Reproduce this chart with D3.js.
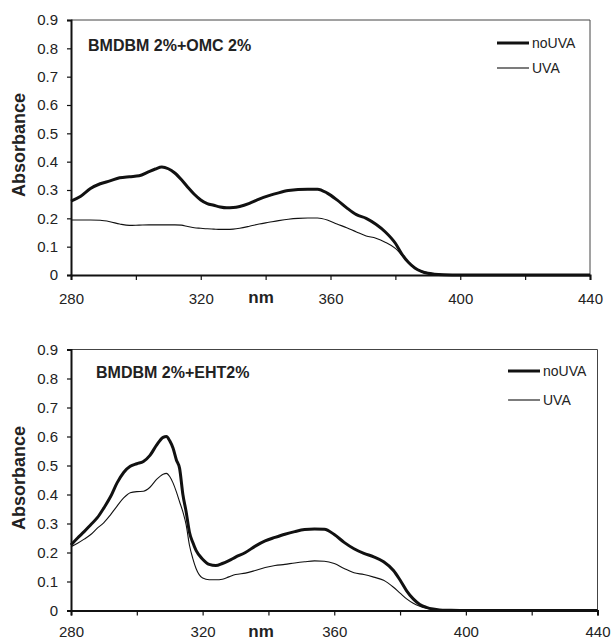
<!DOCTYPE html>
<html>
<head>
<meta charset="utf-8">
<script src="https://cdn.jsdelivr.net/npm/d3@7"></script>
<style>
  html, body { margin: 0; padding: 0; background: #fff; }
  svg { display: block; font-family: "Liberation Sans", Arial, sans-serif; }
</style>
</head>
<body>
<svg id="chart" width="613" height="640"></svg>
<script>
// ---------- DATA ----------
const yTicks = [0, 0.1, 0.2, 0.3, 0.4, 0.5, 0.6, 0.7, 0.8, 0.9];
const xTicks = [280, 300, 320, 340, 360, 380, 400, 420, 440];
const xTickLabels = ["280", "", "320", "", "360", "", "400", "", "440"];
const seriesNames = ["noUVA", "UVA"];

// Panel 1: BMDBM 2%+OMC 2%
const title1 = "BMDBM 2%+OMC 2%";
const wl1 = [280, 283, 286, 289, 292, 295, 298, 301, 304, 306, 308, 310, 312, 314, 316, 318, 320, 322, 324, 326, 328, 330, 332, 335, 338, 341, 344, 347, 350, 353, 356, 359, 362, 365, 368, 371, 374, 377, 380, 382, 384, 386, 388, 390, 392, 395, 400, 420, 440];
const noUVA1 = [0.261, 0.278, 0.305, 0.322, 0.332, 0.343, 0.347, 0.350, 0.365, 0.374, 0.381, 0.375, 0.360, 0.337, 0.310, 0.285, 0.265, 0.252, 0.246, 0.240, 0.237, 0.238, 0.242, 0.253, 0.268, 0.280, 0.290, 0.298, 0.302, 0.303, 0.303, 0.289, 0.265, 0.237, 0.213, 0.200, 0.179, 0.151, 0.112, 0.074, 0.045, 0.025, 0.013, 0.006, 0.003, 0.001, 0, 0, 0];
const UVA1 = [0.194, 0.194, 0.194, 0.193, 0.188, 0.180, 0.175, 0.176, 0.177, 0.177, 0.177, 0.177, 0.177, 0.176, 0.171, 0.167, 0.165, 0.163, 0.162, 0.161, 0.161, 0.162, 0.165, 0.172, 0.180, 0.186, 0.192, 0.197, 0.200, 0.201, 0.201, 0.194, 0.180, 0.167, 0.152, 0.138, 0.130, 0.115, 0.094, 0.070, 0.045, 0.025, 0.014, 0.008, 0.004, 0.001, 0, 0, 0];

// Panel 2: BMDBM 2%+EHT2%
const title2 = "BMDBM 2%+EHT2%";
const wl2 = [280, 282, 284, 286, 288, 290, 292, 294, 296, 298, 300, 302, 304, 306, 308, 309, 310, 311, 312, 313, 314, 315, 316, 317, 318, 320, 322, 324, 326, 328, 330, 333, 336, 339, 342, 345, 348, 351, 354, 357, 360, 363, 366, 369, 372, 375, 378, 380, 382, 384, 386, 388, 390, 392, 395, 400, 420, 440];
const noUVA2 = [0.226, 0.250, 0.272, 0.296, 0.320, 0.354, 0.392, 0.440, 0.476, 0.497, 0.506, 0.514, 0.535, 0.570, 0.597, 0.600, 0.585, 0.560, 0.520, 0.490, 0.400, 0.340, 0.270, 0.235, 0.207, 0.177, 0.159, 0.155, 0.162, 0.172, 0.184, 0.200, 0.222, 0.240, 0.252, 0.263, 0.272, 0.279, 0.281, 0.280, 0.262, 0.235, 0.213, 0.197, 0.185, 0.168, 0.138, 0.105, 0.068, 0.040, 0.021, 0.011, 0.005, 0.002, 0.001, 0, 0, 0];
const UVA2 = [0.220, 0.232, 0.246, 0.262, 0.284, 0.303, 0.330, 0.360, 0.388, 0.406, 0.410, 0.411, 0.425, 0.452, 0.470, 0.473, 0.462, 0.440, 0.410, 0.375, 0.340, 0.295, 0.225, 0.180, 0.145, 0.112, 0.106, 0.106, 0.108, 0.116, 0.124, 0.129, 0.138, 0.148, 0.155, 0.159, 0.164, 0.168, 0.171, 0.170, 0.162, 0.145, 0.130, 0.124, 0.115, 0.104, 0.080, 0.060, 0.040, 0.025, 0.015, 0.008, 0.004, 0.002, 0.001, 0, 0, 0];

// ---------- DRAW ----------
const svg = d3.select("#chart");

const panels = [
  { title: title1, wl: wl1, series: [noUVA1, UVA1], left: 71, right: 590, top: 20, bottom: 275,
    titlePos: [88, 51], legY: [43, 68], legX: 497, ylabY: 145, pad: 13 },
  { title: title2, wl: wl2, series: [noUVA2, UVA2], left: 71, right: 597.5, top: 349.5, bottom: 610.5,
    titlePos: [96, 378], legY: [371, 400], legX: 508, ylabY: 478, pad: 11 }
];

const widths = [3, 1.1];

panels.forEach(p => {
  const x = d3.scaleLinear().domain([280, 440]).range([p.left, p.right]);
  const y = d3.scaleLinear().domain([0, 0.9]).range([p.bottom, p.top]);
  const g = svg.append("g");

  // frame (top & right thin)
  g.append("path")
    .attr("d", `M${p.left},${p.top}H${p.right}V${p.bottom}`)
    .attr("fill", "none").attr("stroke", "#444").attr("stroke-width", 1);

  // lines
  const line = d3.line().x(d => x(d[0])).y(d => y(d[1])).curve(d3.curveMonotoneX);
  p.series.forEach((vals, i) => {
    const pts = p.wl.map((w, k) => [w, vals[k]]);
    g.append("path").datum(pts)
      .attr("d", line)
      .attr("fill", "none")
      .attr("stroke", "#111")
      .attr("stroke-width", widths[i])
      .attr("stroke-linejoin", "round");
  });

  // y axis
  const ya = g.append("g").attr("transform", `translate(${p.left},0)`)
    .call(d3.axisLeft(y).tickValues(yTicks).tickSize(4).tickPadding(9)
      .tickFormat(d => d === 0 ? "0" : d3.format(".1f")(d)));
  ya.select(".domain").attr("stroke", "#111").attr("stroke-width", 2);
  ya.selectAll(".tick line").attr("stroke", "#111").attr("stroke-width", 1.2);
  ya.selectAll(".tick text").attr("font-size", 15).attr("fill", "#222")
    .attr("font-family", "'Liberation Sans', Arial, sans-serif");

  // x axis
  const xa = g.append("g").attr("transform", `translate(0,${p.bottom})`)
    .call(d3.axisBottom(x).tickValues(xTicks).tickSize(5).tickPadding(p.pad)
      .tickFormat((d, i) => xTickLabels[i]));
  xa.select(".domain").attr("stroke", "#111").attr("stroke-width", 2);
  xa.selectAll(".tick line").attr("stroke", "#111").attr("stroke-width", 1.2);
  xa.selectAll(".tick text").attr("font-size", 15).attr("fill", "#222")
    .attr("font-family", "'Liberation Sans', Arial, sans-serif");

  // x axis title
  g.append("text").attr("x", 261).attr("y", p.bottom + p.pad + 15)
    .attr("text-anchor", "middle").attr("font-weight", "bold").attr("font-size", 17)
    .attr("fill", "#222").text("nm");

  // y axis title
  g.append("text")
    .attr("transform", `translate(25,${p.ylabY}) rotate(-90)`)
    .attr("text-anchor", "middle").attr("font-weight", "bold").attr("font-size", 18)
    .attr("fill", "#222").text("Absorbance");

  // panel title
  g.append("text").attr("x", p.titlePos[0]).attr("y", p.titlePos[1])
    .attr("font-weight", "bold").attr("font-size", 16).attr("fill", "#222").text(p.title);

  // legend
  seriesNames.forEach((name, i) => {
    g.append("line").attr("x1", p.legX).attr("x2", p.legX + 32)
      .attr("y1", p.legY[i]).attr("y2", p.legY[i])
      .attr("stroke", "#111").attr("stroke-width", widths[i]);
    g.append("text").attr("x", p.legX + 35).attr("y", p.legY[i] + 5)
      .attr("font-size", 14).attr("fill", "#222").text(name);
  });
});
</script>
</body>
</html>
